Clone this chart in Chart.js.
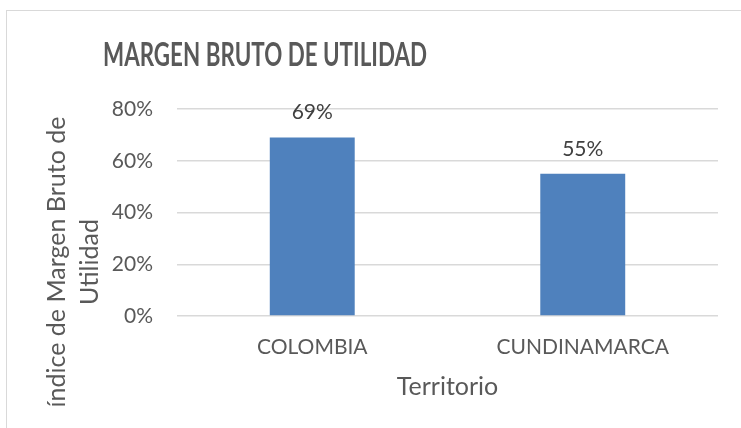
<!DOCTYPE html>
<html>
<head>
<meta charset="utf-8">
<script src="https://cdn.jsdelivr.net/npm/chart.js@4"></script>
<style>
  html, body { margin: 0; padding: 0; background: #fff; }
  #wrap { position: relative; width: 741px; height: 428px; overflow: hidden; }
  #frame { position: absolute; left: 6px; top: 10px; width: 800px; height: 500px; border: 1px solid #d9d9d9; }
  canvas { position: absolute; left: 0; top: 0; }
</style>
</head>
<body>
<div id="wrap">
  <div id="frame"></div>
  <canvas id="chart" width="741" height="428"></canvas>
</div>
<script>
// Chart data
const territories = ['COLOMBIA', 'CUNDINAMARCA'];
const margins = [0.69, 0.55];
const yTicks = [0, 0.2, 0.4, 0.6, 0.8];
const chartTitle = 'MARGEN BRUTO DE UTILIDAD';
const yTitle = ['índice de Margen Bruto de', 'Utilidad'];
const xTitle = 'Territorio';

const FONT = 'Lato, "Open Sans", sans-serif';
const GREY = '#595959';

// Title + y axis title + value labels, drawn like Excel places them
const excelText = {
  id: 'excelText',
  afterDatasetsDraw(chart) {
    const ctx = chart.ctx;
    ctx.save();

    // title (squeezed a bit to get the narrow Calibri look)
    ctx.fillStyle = GREY;
    ctx.font = 'bold 32px ' + FONT;
    ctx.textAlign = 'center';
    ctx.textBaseline = 'middle';
    const w = ctx.measureText(chartTitle).width;
    ctx.save();
    ctx.translate(265, 56);
    ctx.scale(Math.min(1, 324 / w), 1);
    ctx.fillText(chartTitle, 0, 0);
    ctx.restore();

    // y axis title (two lines, rotated)
    ctx.font = '25px ' + FONT;
    ctx.translate(73, 262);
    ctx.rotate(-Math.PI / 2);
    ctx.fillText(yTitle[0], 0, -16);
    ctx.fillText(yTitle[1], 0, 17);
    ctx.restore();

    // value labels above bars
    ctx.save();
    ctx.fillStyle = '#404040';
    ctx.font = '21px ' + FONT;
    ctx.textAlign = 'center';
    ctx.textBaseline = 'alphabetic';
    const meta = chart.getDatasetMeta(0);
    meta.data.forEach((bar, i) => {
      ctx.fillText(Math.round(margins[i] * 100) + '%', bar.x, bar.y - 18);
    });
    ctx.restore();
  }
};

const ctx = document.getElementById('chart').getContext('2d');

new Chart(ctx, {
  type: 'bar',
  data: {
    labels: territories,
    datasets: [{
      data: margins,
      backgroundColor: '#4f81bd',
      categoryPercentage: 1,
      barPercentage: 0.314
    }]
  },
  options: {
    responsive: false,
    animation: false,
    layout: {
      padding: { top: 109, right: 23, bottom: 0, left: 0 }
    },
    plugins: {
      legend: { display: false },
      tooltip: { enabled: false }
    },
    scales: {
      x: {
        grid: { display: false, drawTicks: false },
        border: { display: false },
        ticks: {
          color: GREY,
          font: { family: FONT, size: 21 },
          padding: 19,
          maxRotation: 0
        },
        title: {
          display: true,
          text: xTitle,
          color: GREY,
          font: { family: FONT, size: 25 },
          padding: { top: 0, bottom: 26 }
        },
        afterFit: s => { s.height = 112; }
      },
      y: {
        min: 0,
        max: 0.8,
        afterBuildTicks: s => { s.ticks = yTicks.map(v => ({ value: v })); },
        grid: { color: '#d9d9d9', lineWidth: 1.5, drawTicks: false },
        border: { display: false },
        ticks: {
          color: GREY,
          font: { family: FONT, size: 21 },
          padding: 24,
          callback: v => Math.round(v * 100) + '%'
        },
        afterFit: s => { s.width = 177; }
      }
    }
  },
  plugins: [excelText]
});
</script>
</body>
</html>
